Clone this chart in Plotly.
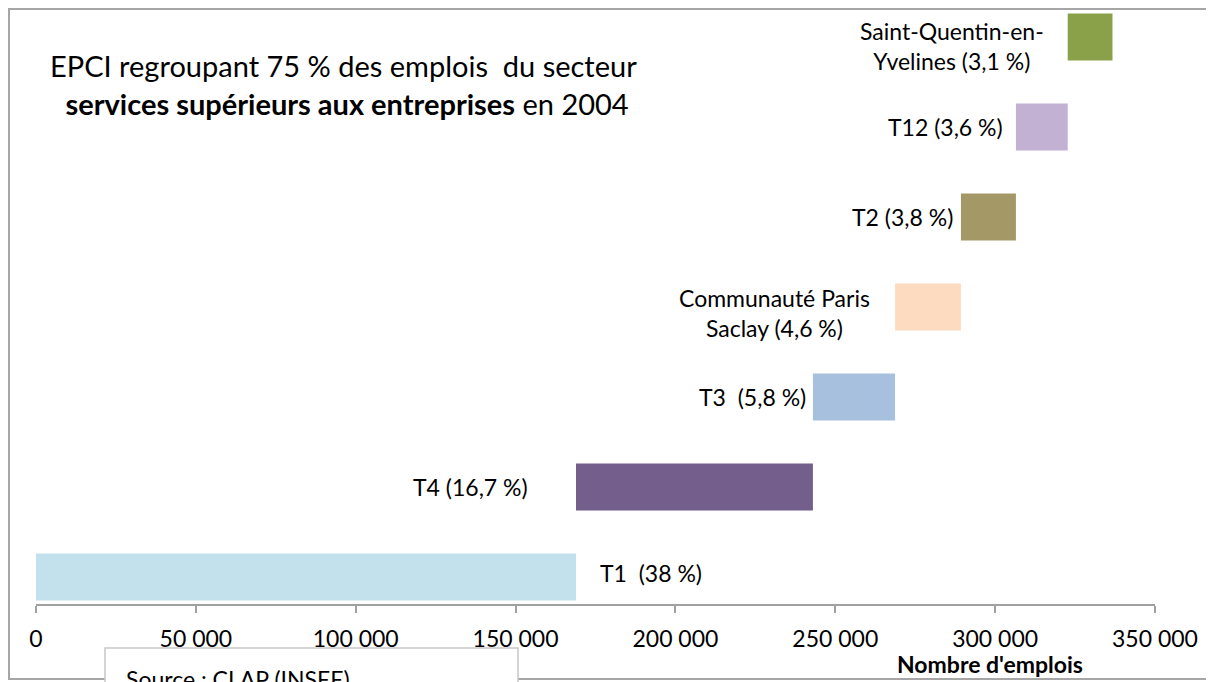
import plotly.graph_objects as go
import numpy as np

# Data (emplois)
territoires = ["T1", "T4", "T3", "Communauté Paris Saclay", "T2", "T12", "Saint-Quentin-en-Yvelines"]
etiquettes = ["T1  (38 %)", "T4 (16,7 %)", "T3  (5,8 %)", "Communauté Paris<br>Saclay (4,6 %)",
              "T2 (3,8 %)", "T12 (3,6 %)", "Saint-Quentin-en-<br>Yvelines (3,1 %)"]
emplois = [168900, 74100, 25700, 20600, 17200, 16200, 14000]
couleurs = ["#C2E1EC", "#745E8C", "#A7C0DE", "#FDDBC0", "#A49867", "#C2B1D3", "#8AA14A"]

tick_vals = [0, 50000, 100000, 150000, 200000, 250000, 300000, 350000]

# cumulative (waterfall) bases
ends = np.cumsum(emplois)
bases = ends - np.array(emplois)
pos = list(range(len(territoires)))

FONT = "Lato, Calibri, sans-serif"

fig = go.Figure()
fig.add_trace(
    go.Bar(
        y=pos,
        x=emplois,
        base=bases,
        orientation='h',
        width=0.52,
        marker=dict(color=couleurs, line=dict(width=0)),
        hovertext=territoires,
        showlegend=False,
    )
)

# data labels (hand placed like in the original)
label_gap = [22, -46, -5, -23, -6, -11, -22]
label_dy = [4, 0, 0, -6, 0, 0, -9]
for i in pos:
    if i == 0:
        xa, xv = "left", ends[i]
    else:
        xa, xv = "right", bases[i]
    fig.add_annotation(
        x=xv, y=i, xref="x", yref="y",
        text=etiquettes[i], showarrow=False,
        xanchor=xa, yanchor="middle", align="center",
        xshift=label_gap[i], yshift=label_dy[i],
        font=dict(family=FONT, size=23, color="#000000"),
    )

# the page body adds an 8px margin, so the figure is 8px smaller
OFF = 8
W, H = 1214 - OFF, 682 - OFF
L, R, T, B = 36 - OFF, 1155 - OFF, 8 - OFF, 604 - OFF


def px(x):
    return (x - OFF - L) / (R - L)


def py(y):
    return (B - (y - OFF)) / (B - T)


# title
fig.add_annotation(
    x=px(343), y=py(85), xref="paper", yref="paper",
    text="EPCI regroupant 75 % des emplois  du secteur<br> <b>services supérieurs aux entreprises</b> en 2004",
    showarrow=False, xanchor="center", yanchor="middle", align="center",
    font=dict(family=FONT, size=29, color="#000000"),
)

# axis title
fig.add_annotation(
    x=px(990), y=py(664), xref="paper", yref="paper",
    text="<b>Nombre d'emplois</b>", showarrow=False,
    xanchor="center", yanchor="middle",
    font=dict(family=FONT, size=23, color="#000000"),
)

# outer frame (right side is outside the picture)
fig.add_shape(type="rect", xref="paper", yref="paper",
              x0=px(9), x1=px(1240), y0=py(679), y1=py(9),
              line=dict(color="#A6A6A6", width=2), fillcolor="rgba(0,0,0,0)", layer="below")

# source box (cut by the bottom of the image)
fig.add_shape(type="rect", xref="paper", yref="paper",
              x0=px(105), x1=px(518), y0=py(720), y1=py(648),
              line=dict(color="#C8C8C8", width=1.5), fillcolor="white", layer="above")
fig.add_annotation(
    x=px(124), y=py(679), xref="paper", yref="paper",
    text="Source : CLAP (INSEE)", showarrow=False,
    xanchor="left", yanchor="middle",
    font=dict(family=FONT, size=23, color="#000000"),
)

fig.update_xaxes(
    range=[0, 350000],
    tickvals=tick_vals,
    tickformat=",d",
    showgrid=False,
    zeroline=False,
    showline=True, linecolor="#A0A0A0", linewidth=2,
    ticks="outside", ticklen=7, tickcolor="#A0A0A0", tickwidth=2,
    ticklabelstandoff=6,
    tickfont=dict(family=FONT, size=23, color="#000000"),
)
fig.update_yaxes(
    range=[-0.3, (577 - 8) / 90],
    visible=False,
    showgrid=False,
    zeroline=False,
)

fig.update_layout(
    width=W,
    height=H,
    margin=dict(l=L, r=W - R, t=T, b=H - B, pad=0),
    separators=", ",
    plot_bgcolor="white",
    paper_bgcolor="white",
    font=dict(family=FONT, size=23),
    showlegend=False,
)

fig.write_html("out.html")
